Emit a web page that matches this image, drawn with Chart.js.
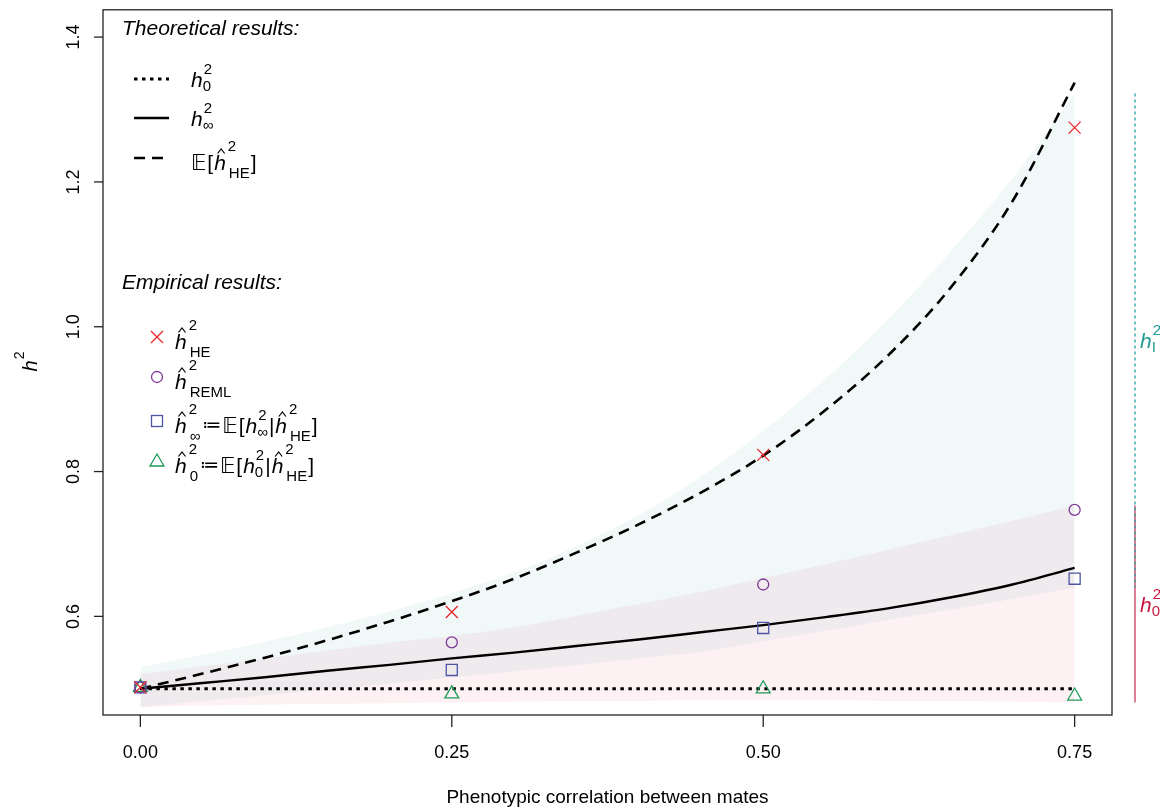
<!DOCTYPE html>
<html>
<head>
<meta charset="utf-8">
<script src="https://cdn.jsdelivr.net/npm/chart.js@4"></script>
<style>
  html, body { margin: 0; padding: 0; background: #fff; }
  #wrap { width: 1160px; height: 810px; position: relative; }
</style>
</head>
<body>
<div id="wrap"><canvas id="chart"></canvas></div>
<script>
// --- data ---
const rGrid = [0, 0.05, 0.10, 0.15, 0.20, 0.25, 0.30, 0.35, 0.40, 0.45, 0.50, 0.55, 0.60, 0.65, 0.70, 0.75];
const h0Curve   = [0.5, 0.5, 0.5, 0.5, 0.5, 0.5, 0.5, 0.5, 0.5, 0.5, 0.5, 0.5, 0.5, 0.5, 0.5, 0.5];
const hInfCurve = [0.500, 0.508, 0.516, 0.525, 0.533, 0.542, 0.550, 0.559, 0.568, 0.578, 0.588, 0.599, 0.611, 0.626, 0.644, 0.667];
const hHECurve  = [0.500, 0.521, 0.543, 0.567, 0.593, 0.621, 0.652, 0.688, 0.727, 0.771, 0.822, 0.885, 0.960, 1.053, 1.173, 1.337];
// shaded bands (teal: h_I^2, red: h_0^2)
const bandIUpper = [0.530, 0.547, 0.565, 0.585, 0.607, 0.632, 0.661, 0.697, 0.740, 0.793, 0.856, 0.928, 1.010, 1.103, 1.205, 1.322];
const bandILower = [0.475, 0.483, 0.491, 0.499, 0.507, 0.516, 0.524, 0.533, 0.542, 0.551, 0.566, 0.580, 0.595, 0.609, 0.624, 0.640];
const band0Upper = [0.520, 0.531, 0.542, 0.553, 0.564, 0.573, 0.585, 0.601, 0.617, 0.634, 0.653, 0.672, 0.692, 0.712, 0.732, 0.753];
const band0Lower = [0.475, 0.477, 0.478, 0.479, 0.480, 0.481, 0.482, 0.483, 0.483, 0.484, 0.484, 0.484, 0.483, 0.483, 0.482, 0.481];

const rPoints   = [0, 0.25, 0.50, 0.75];
const hHEPts    = [0.502, 0.606, 0.823, 1.275];
const hREMLPts  = [0.502, 0.564, 0.644, 0.747];
const hInfPts   = [0.502, 0.526, 0.584, 0.652];
const h0Pts     = [0.502, 0.493, 0.500, 0.490];

const xTicks = [0, 0.25, 0.5, 0.75];
const xTickLabels = ['0.00', '0.25', '0.50', '0.75'];
const yTicks = [0.6, 0.8, 1.0, 1.2, 1.4];
const yTickLabels = ['0.6', '0.8', '1.0', '1.2', '1.4'];

const FONT = "'Liberation Sans', Arial, 'DejaVu Sans', sans-serif";
const TEAL = 'rgba(0,139,139,0.06)';
const PINK = 'rgba(220,20,60,0.06)';
const C_HE = '#e8262b', C_REML = '#7d3a96', C_INF = '#4b55a3', C_H0 = '#1e9a58';
const DOT = [3.5, 4.5], DASH = [11, 7];

const xy = (xs, ys) => xs.map((x, i) => ({ x, y: ys[i] }));

function txt(ctx, s, x, y, size, style, color) {
  ctx.font = (style ? style + ' ' : '') + size + 'px ' + FONT;
  ctx.fillStyle = color || '#000';
  ctx.fillText(s, x, y);
  return x + ctx.measureText(s).width;
}

// italic h with optional hat, superscript and subscript
function hsym(ctx, x, base, o, color) {
  const size = o.size || 21, small = o.small || 15;
  const end = txt(ctx, 'h', x, base, size, 'italic', color);
  const w = end - x;
  if (o.hat) {
    const cx = x + w * 0.6, top = base - size * 1.0;
    ctx.save();
    ctx.strokeStyle = color || '#000';
    ctx.lineWidth = 1.2;
    ctx.beginPath();
    ctx.moveTo(cx - 3.5, top + 4.5);
    ctx.lineTo(cx, top);
    ctx.lineTo(cx + 3.5, top + 4.5);
    ctx.stroke();
    ctx.restore();
  }
  let e1 = end, e2 = end;
  if (o.sup) e1 = txt(ctx, o.sup, end + (o.hat ? 2 : 1), base - (o.hat ? 19 : 13), small, '', color);
  if (o.sub) e2 = txt(ctx, o.sub, end + (o.hat ? 3 : 0), base + (o.hat ? 8 : 4), small, '', color);
  return Math.max(e1, e2);
}

const decor = {
  id: 'decor',
  afterDraw(chart) {
    const ctx = chart.ctx, a = chart.chartArea;
    const xs = chart.scales.x, ys = chart.scales.y;
    ctx.save();
    // box
    ctx.strokeStyle = '#222';
    ctx.lineWidth = 1.3;
    ctx.strokeRect(a.left, a.top, a.right - a.left, a.bottom - a.top);

    // x axis ticks and labels
    ctx.textAlign = 'center';
    xTicks.forEach((t, i) => {
      const px = xs.getPixelForValue(t);
      ctx.beginPath(); ctx.moveTo(px, a.bottom); ctx.lineTo(px, a.bottom + 12); ctx.stroke();
      txt(ctx, xTickLabels[i], px, 758, 18, '', '#000');
    });
    txt(ctx, 'Phenotypic correlation between mates', (a.left + a.right) / 2, 803, 19, '', '#000');

    // y axis ticks and rotated labels
    yTicks.forEach((t, i) => {
      const py = ys.getPixelForValue(t);
      ctx.beginPath(); ctx.moveTo(a.left, py); ctx.lineTo(a.left - 9, py); ctx.stroke();
      ctx.save();
      ctx.translate(79, py); ctx.rotate(-Math.PI / 2);
      txt(ctx, yTickLabels[i], 0, 0, 18, '', '#000');
      ctx.restore();
    });
    ctx.save();
    ctx.translate(37, (a.top + a.bottom) / 2); ctx.rotate(-Math.PI / 2);
    ctx.textAlign = 'left';
    hsym(ctx, -9, 0, { sup: '2', size: 20, small: 14 });
    ctx.restore();

    // theoretical legend
    ctx.textAlign = 'left';
    txt(ctx, 'Theoretical results:', 122, 35, 21, 'italic', '#000');
    const lx0 = 134, lx1 = 169;
    [[79, DOT, 3], [118, [], 2.4], [158, DASH, 2.6]].forEach(([y, dash, lw]) => {
      ctx.save(); ctx.setLineDash(dash); ctx.lineWidth = lw; ctx.strokeStyle = '#000';
      ctx.beginPath(); ctx.moveTo(lx0, y); ctx.lineTo(lx1, y); ctx.stroke(); ctx.restore();
    });
    hsym(ctx, 191, 87, { sup: '2', sub: '0' });
    hsym(ctx, 191, 126, { sup: '2', sub: '\u221E' });
    let x = txt(ctx, '\uD835\uDD3C', 191, 170, 21, '', '#000');
    x = txt(ctx, '[', x + 1, 170, 21, '', '#000');
    x = hsym(ctx, x + 1, 170, { hat: true, sup: '2', sub: 'HE' });
    txt(ctx, ']', x + 1, 170, 21, '', '#000');

    // empirical legend
    txt(ctx, 'Empirical results:', 122, 289, 21, 'italic', '#000');
    const base = [349, 389, 433, 473];
    hsym(ctx, 175, base[0], { hat: true, sup: '2', sub: 'HE' });
    hsym(ctx, 175, base[1], { hat: true, sup: '2', sub: 'REML' });
    [['\u221E'], ['0']].forEach(([s], k) => {
      const b = base[2 + k];
      let xx = hsym(ctx, 175, b, { hat: true, sup: '2', sub: s });
      xx = txt(ctx, '\u2254', xx + 2, b - 2, 19, '', '#000');
      xx = txt(ctx, '\uD835\uDD3C', xx + 1, b, 21, '', '#000');
      xx = txt(ctx, '[', xx + 1, b, 21, '', '#000');
      xx = hsym(ctx, xx + 1, b, { sup: '2', sub: s });
      xx = txt(ctx, '|', xx + 1, b, 21, '', '#000');
      xx = hsym(ctx, xx + 1, b, { hat: true, sup: '2', sub: 'HE' });
      txt(ctx, ']', xx + 1, b, 21, '', '#000');
    });
    // legend markers
    const mx = 157, my = [337, 377, 421, 461];
    ctx.lineWidth = 1.3;
    ctx.strokeStyle = C_HE;
    ctx.beginPath(); ctx.moveTo(mx - 6, my[0] - 6); ctx.lineTo(mx + 6, my[0] + 6);
    ctx.moveTo(mx + 6, my[0] - 6); ctx.lineTo(mx - 6, my[0] + 6); ctx.stroke();
    ctx.strokeStyle = C_REML;
    ctx.beginPath(); ctx.arc(mx, my[1], 5.5, 0, Math.PI * 2); ctx.stroke();
    ctx.strokeStyle = C_INF;
    ctx.strokeRect(mx - 5.5, my[2] - 5.5, 11, 11);
    ctx.strokeStyle = C_H0;
    ctx.beginPath(); ctx.moveTo(mx, my[3] - 7); ctx.lineTo(mx + 7, my[3] + 5); ctx.lineTo(mx - 7, my[3] + 5); ctx.closePath(); ctx.stroke();

    // range markers on the right, at the r = 0.75 band extents
    const rx = 1135;
    const n = rGrid.length - 1;
    const t0 = ys.getPixelForValue(bandIUpper[n]), t1 = ys.getPixelForValue(bandILower[n]);
    const p0 = ys.getPixelForValue(band0Upper[n]), p1 = ys.getPixelForValue(band0Lower[n]);
    ctx.strokeStyle = '#d2476a'; ctx.lineWidth = 1.4; ctx.setLineDash([]);
    ctx.beginPath(); ctx.moveTo(rx, p0); ctx.lineTo(rx, p1); ctx.stroke();
    ctx.strokeStyle = 'rgba(40,160,160,0.8)'; ctx.lineWidth = 1.6; ctx.setLineDash([3, 3]);
    ctx.beginPath(); ctx.moveTo(rx, t0); ctx.lineTo(rx, t1); ctx.stroke();
    ctx.setLineDash([]);
    hsym(ctx, 1140, (t0 + t1) / 2 + 8, { sup: '2', sub: 'I' }, '#1f9a94');
    hsym(ctx, 1140, (p0 + p1) / 2 + 8, { sup: '2', sub: '0' }, '#c8163f');
    ctx.restore();
  }
};

const pointSet = (label, ys, style, color, radius) => ({
  label, data: xy(rPoints, ys), showLine: false, pointStyle: style,
  pointRadius: radius, pointBorderColor: color, pointBackgroundColor: 'rgba(0,0,0,0)',
  pointBorderWidth: 1.3, borderColor: color
});
const lineSet = (label, ys, dash, width) => ({
  label, data: xy(rGrid, ys), borderColor: '#000', borderWidth: width, borderDash: dash,
  pointRadius: 0, cubicInterpolationMode: 'monotone', fill: false
});
const bandSet = (label, ys, fill, color) => ({
  label, data: xy(rGrid, ys), borderWidth: 0, borderColor: 'rgba(0,0,0,0)', pointRadius: 0,
  cubicInterpolationMode: 'monotone', fill, backgroundColor: color
});

new Chart(document.getElementById('chart'), {
  type: 'line',
  data: {
    datasets: [
      pointSet('hHE', hHEPts, 'crossRot', C_HE, 8.5),
      pointSet('hREML', hREMLPts, 'circle', C_REML, 5.5),
      pointSet('hInf', hInfPts, 'rect', C_INF, 7.8),
      pointSet('h0', h0Pts, 'triangle', C_H0, 8),
      lineSet('h0 theory', h0Curve, DOT, 3),
      lineSet('hInf theory', hInfCurve, [], 2.4),
      lineSet('E hHE', hHECurve, DASH, 2.6),
      bandSet('I upper', bandIUpper, '+1', TEAL),
      bandSet('I lower', bandILower, false, TEAL),
      bandSet('0 upper', band0Upper, '+1', PINK),
      bandSet('0 lower', band0Lower, false, PINK)
    ]
  },
  options: {
    responsive: true, maintainAspectRatio: false, animation: false, devicePixelRatio: 1,
    layout: { padding: { left: 103, top: 5, right: 48, bottom: 95 } },
    scales: {
      x: { type: 'linear', min: -0.03, max: 0.78, display: false },
      y: { type: 'linear', min: 0.4638, max: 1.4377, display: false }
    },
    plugins: {
      legend: { display: false }, tooltip: { enabled: false },
      filler: { drawTime: 'beforeDatasetsDraw' }
    }
  },
  plugins: [decor]
});
</script>
</body>
</html>
